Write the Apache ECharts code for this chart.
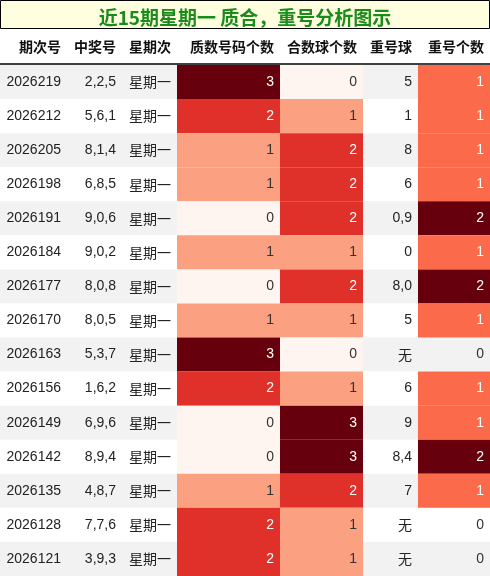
<!DOCTYPE html><html><head><meta charset="utf-8">
<script src="https://cdn.jsdelivr.net/npm/echarts@6/dist/echarts.min.js"></script>
<style>html,body{margin:0;padding:0;background:#fff}#c{width:490px;height:576px}</style></head><body><div id="c"></div>
<script>
const issues=['2026219','2026212','2026205','2026198','2026191','2026184','2026177','2026170','2026163','2026156','2026149','2026142','2026135','2026128','2026121'];
const winning=['2,2,5','5,6,1','8,1,4','6,8,5','9,0,6','9,0,2','8,0,8','8,0,5','5,3,7','1,6,2','6,9,6','8,9,4','4,8,7','7,7,6','3,9,3'];
const weekday=Array(15).fill('星期一');
const primeCount=[3,2,1,1,0,1,0,1,3,2,0,0,1,2,2];
const compositeCount=[0,1,2,2,2,1,2,1,0,1,3,3,2,1,1];
const repeatBalls=['5','1','8','6','0,9','0','8,0','5','无','6','9','8,4','7','无','无'];
const repeatCount=[1,1,1,1,2,1,2,1,0,1,1,2,1,0,0];
const headers=['期次号','中奖号','星期次','质数号码个数','合数球个数','重号球','重号个数'];
const title='近15期星期一 质合，重号分析图示';
// layout
const edges=[0,67,122,177,280,363,418,490];
const TOP=65, ROWH=(576-TOP)/15;
const reds3=['#fff5f0','#fca082','#e0302a','#67000d'];
const reds2=[null,'#fb6a4a','#67000d'];
const cols=[issues,winning,weekday,primeCount,compositeCount,repeatBalls,repeatCount];
const data=[];
cols.forEach((arr,c)=>arr.forEach((v,r)=>data.push([edges[c],edges[c+1],r,v,c])));
function cellColor(c,v){
  if(c===3||c===4)return reds3[v];
  if(c===6)return reds2[v];
  return null;
}
function textColor(c,v){
  if(c===3||c===4)return v>=2?'#fff':'#333';
  if(c===6)return v>=1?'#fff':'#333';
  return '#222';
}
const chart=echarts.init(document.getElementById('c'));
chart.setOption({
  animation:false,
  title:{text:title,left:'center',top:3,textStyle:{color:'#1a8c1a',fontSize:19,fontWeight:'bold',fontFamily:'Noto Sans CJK SC'}},
  graphic:[
    {type:'rect',shape:{x:0.5,y:0.5,width:489,height:28},style:{fill:'#ffffe0',stroke:'#000',lineWidth:1},z:-1},
    {type:'line',shape:{x1:0,y1:64,x2:490,y2:64},style:{stroke:'#000',lineWidth:1.5},z:10},
    ...headers.map((h,i)=>({type:'text',x:edges[i+1]-6,y:47,style:{text:h,align:'right',verticalAlign:'middle',font:'bold 14px "Noto Sans CJK SC"',fill:'#111'}}))
  ],
  grid:{left:0,right:0,top:TOP,bottom:0},
  xAxis:{type:'value',min:0,max:490,show:false},
  yAxis:{type:'category',inverse:true,data:issues,axisLine:{show:false},axisTick:{show:false},axisLabel:{show:false},
    splitArea:{show:true,areaStyle:{color:['#f2f2f2','#ffffff']}}},
  series:[{type:'custom',data:data,renderItem:function(p,api){
    const x0=api.value(0),x1=api.value(1),r=api.value(2),c=api.value(4);
    const v=data[p.dataIndex][3];
    const a=api.coord([x0,r]),b=api.coord([x1,r]);
    const h=api.size([0,1])[1];
    const fill=cellColor(c,v);
    const children=[];
    if(fill)children.push({type:'rect',shape:{x:a[0],y:a[1]-h/2,width:b[0]-a[0],height:h},style:{fill:fill}});
    children.push({type:'text',x:b[0]-6,y:a[1],style:{text:String(v),align:'right',verticalAlign:'middle',
      font:(c===2||c===5&&v==='无'?'14px "Noto Sans CJK SC"':'14px "Liberation Sans"'),fill:textColor(c,v)}});
    return {type:'group',children:children};
  }}]
});
</script></body></html>
